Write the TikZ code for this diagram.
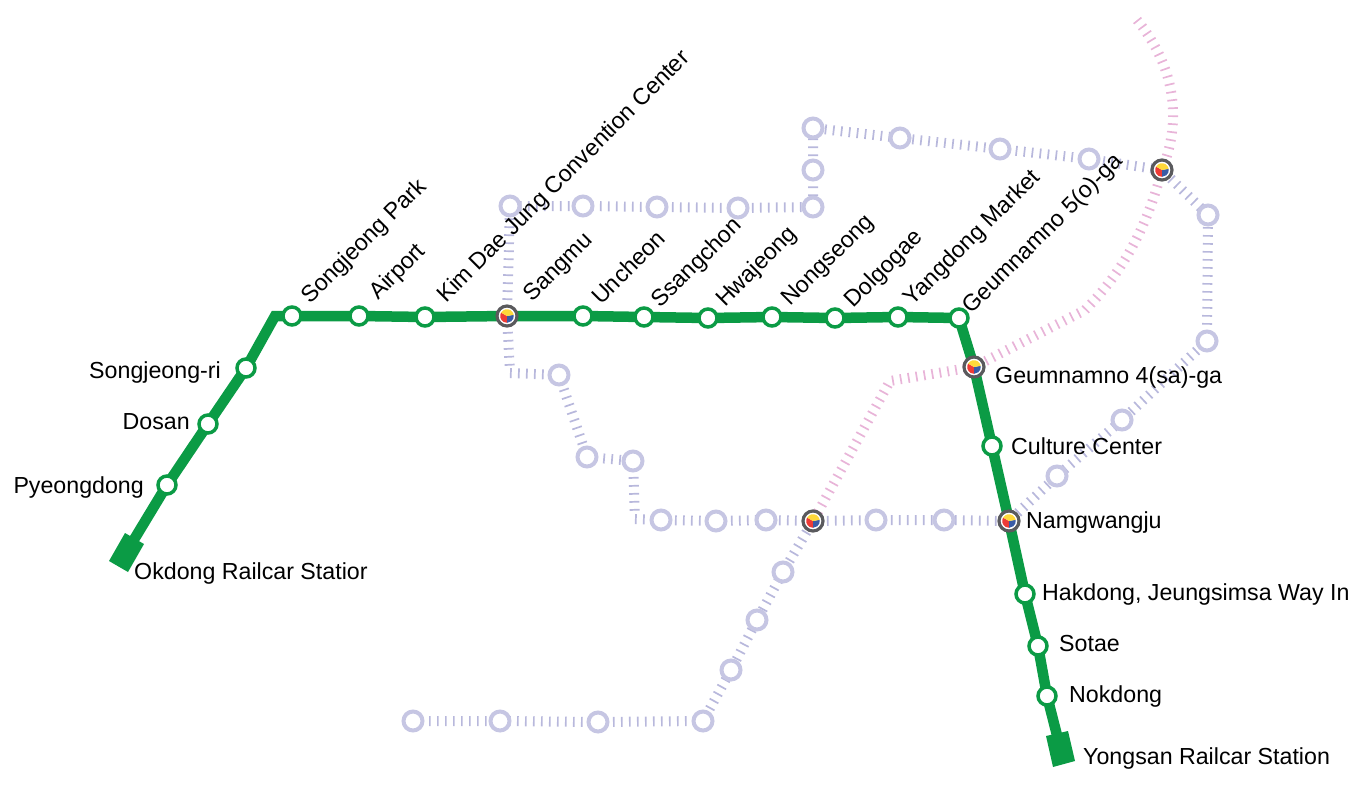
\documentclass[tikz,border=0pt]{standalone}
\usepackage{fontspec}
\setmainfont{Liberation Sans}
\definecolor{mgreen}{HTML}{0B9B45}
\definecolor{mlight}{HTML}{B8B8DC}
\definecolor{mring}{HTML}{C6C6E3}
\definecolor{mpink}{HTML}{E8B4D8}
\definecolor{mdark}{HTML}{5A5A5D}
\definecolor{pyellow}{HTML}{FFD83A}
\definecolor{pred}{HTML}{EE3B36}
\definecolor{pblue}{HTML}{3A5BA6}
\pgfdeclarelayer{back}\pgfdeclarelayer{backb}
\pgfsetlayers{backb,back,main}
\tikzset{
  st/.style={circle,draw=mgreen,fill=white,line width=3.5pt,minimum size=18pt,inner sep=0pt},
  faint/.style={circle,draw=mring,fill=white,line width=4pt,minimum size=19pt,inner sep=0pt},
  hub/.style={circle,draw=mdark,fill=white,line width=3.2pt,minimum size=20pt,inner sep=0pt,
    path picture={
      \def\pc{path picture bounding box.center}
      \fill[pred] (\pc) -- ++(150:6.8pt) arc[start angle=150,end angle=270,radius=6.8pt] -- cycle;
      \fill[pblue] (\pc) -- ++(10:6.8pt) arc[start angle=10,end angle=-90,radius=6.8pt] -- cycle;
      \fill[pyellow] (\pc) -- ++(150:6.8pt) arc[start angle=150,end angle=10,radius=6.8pt] -- cycle;
    }},
  faintline/.style={draw=mlight,line width=10pt,dash pattern=on 1.7pt off 6.3pt},
  pinkline/.style={draw=mpink,line width=10pt,dash pattern=on 1.7pt off 6.3pt},
  mainline/.style={draw=mgreen,line width=10.5pt,line join=miter},
  lbl/.style={font=\fontsize{23.2}{27}\selectfont,inner sep=0pt,text=black},
  up/.style={lbl,rotate=45,anchor=base west},
  side/.style={lbl,anchor=base west},
  leftside/.style={lbl,anchor=base east},
  term/.style={fill=mgreen}
}
\begin{document}
\begin{tikzpicture}[x=1pt,y=-1pt]
\useasboundingbox (0,0) rectangle (1368,803);
% main stations
\node[st] (pyeong) at (167,485) {};
\node[st] (dosan) at (208,424) {};
\node[st] (sri) at (246,368) {};
\node[st] (spark) at (292,316) {};
\node[st] (airport) at (359,316) {};
\node[st] (kim) at (425,317) {};
\node[hub] (sangmu) at (507,316) {};
\node[st] (uncheon) at (583,316) {};
\node[st] (ssang) at (644,317) {};
\node[st] (hwa) at (708,318) {};
\node[st] (nong) at (772,317) {};
\node[st] (dol) at (835,318) {};
\node[st] (yang) at (898,317) {};
\node[st] (g5) at (959,318) {};
\node[hub] (g4) at (974,367) {};
\node[st] (culture) at (992,446) {};
\node[hub] (nam) at (1009,521) {};
\node[st] (hak) at (1025,594) {};
\node[st] (sotae) at (1038,646) {};
\node[st] (nok) at (1047,696) {};
\coordinate (bend) at (275,316);
\coordinate (okd) at (126.5,552);
\coordinate (yong) at (1060.5,749);
% faint stations
\node[faint] (a1) at (510,206) {};
\node[faint] (a2) at (583,206) {};
\node[faint] (a3) at (657,207) {};
\node[faint] (a4) at (738,208) {};
\node[faint] (a5) at (813,207) {};
\node[faint] (a6) at (813,170) {};
\node[faint] (a7) at (813,128) {};
\node[faint] (a8) at (900,138) {};
\node[faint] (a9) at (1000,149) {};
\node[faint] (a10) at (1089,159) {};
\node[hub] (cross) at (1162,170) {};
\node[faint] (a11) at (1208,215) {};
\node[faint] (a12) at (1207,341) {};
\node[faint] (a13) at (1122,420) {};
\node[faint] (a14) at (1057,476) {};
\node[faint] (b1) at (559,375) {};
\node[faint] (b2) at (587,457) {};
\node[faint] (b3) at (633,461) {};
\node[faint] (b4) at (661,520) {};
\node[faint] (b5) at (716,521) {};
\node[faint] (b6) at (766,520) {};
\node[hub] (mid) at (813,521) {};
\node[faint] (b7) at (876,520) {};
\node[faint] (b8) at (944,520) {};
\node[faint] (c1) at (413,721) {};
\node[faint] (c2) at (500,721) {};
\node[faint] (c3) at (598,722) {};
\node[faint] (c4) at (703,721) {};
\node[faint] (c5) at (731,670) {};
\node[faint] (c6) at (757,620) {};
\node[faint] (c7) at (783,572) {};
\coordinate (s1) at (510,373);
\coordinate (s2) at (635,519);
\coordinate (ptop) at (1137,20);
\coordinate (pa) at (1085,310);
\coordinate (pb) at (890,381);
\begin{pgfonlayer}{backb}
\draw[pinkline] (ptop) .. controls (1168,58) and (1186,110) .. (cross.center) .. controls (1150,215) and (1130,265) .. (pa) -- (g4.center) -- (pb) -- (mid.center);
\draw[faintline] (sangmu.center) -- (a1.center) -- (a2.center) -- (a3.center) -- (a4.center) -- (a5.center) -- (a6.center) -- (a7.center) -- (a8.center) -- (a9.center) -- (a10.center) -- (cross.center) -- (a11.center) -- (a12.center) -- (a13.center) -- (a14.center) -- (nam.center);
\draw[faintline,shorten >=5pt] (sangmu.center) -- (s1);
\draw[faintline] (s1) -- (b1.center) -- (b2.center) -- (b3.center);
\draw[faintline,shorten >=5pt] (b3.center) -- (s2);
\draw[faintline] (s2) -- (b4.center) -- (b5.center) -- (b6.center) -- (mid.center) -- (b7.center) -- (b8.center) -- (nam.center);
\draw[faintline] (c1.center) -- (c2.center) -- (c3.center) -- (c4.center) -- (c5.center) -- (c6.center) -- (c7.center) -- (mid.center);
\end{pgfonlayer}
\begin{pgfonlayer}{back}
\draw[mainline] (okd) -- (pyeong.center) -- (dosan.center) -- (sri.center) -- (bend) -- (spark.center) -- (airport.center) -- (kim.center) -- (sangmu.center) -- (uncheon.center) -- (ssang.center) -- (hwa.center) -- (nong.center) -- (dol.center) -- (yang.center) -- (g5.center) -- (g4.center) -- (culture.center) -- (nam.center) -- (hak.center) -- (sotae.center) -- (nok.center) -- (yong);
\fill[term] (125,533) -- (144,544) -- (128,572) -- (109,561) -- cycle;
\fill[term] (1046,736) -- (1068,731) -- (1075,761) -- (1053,767) -- cycle;
\end{pgfonlayer}
% labels
\node[up] (l1) at (310.5,305) {Songjeong Park};
\node[up] (l2) at (378,301) {Airport};
\node[up] (l3) at (446,304) {Kim Dae Jung Convention Center};
\node[up] (l4) at (532.5,303) {Sangmu};
\node[up] (l5) at (601,306) {Uncheon};
\node[up] (l6) at (660.5,309) {Ssangchon};
\node[up] (l7) at (725,308) {Hwajeong};
\node[up] (l8) at (790.5,307) {Nongseong};
\node[up] (l9) at (853.5,309) {Dolgogae};
\node[up] (l10) at (912.5,307) {Yangdong Market};
\node[up] (l11) at (971.5,315) {Geumnamno 5(o)-ga};
\node[leftside] (l12) at (221,378) {Songjeong-ri};
\node[leftside] (l13) at (190,429) {Dosan};
\node[leftside] (l14) at (144,493) {Pyeongdong};
\node[side] (l15) at (134,579) {Okdong Railcar Statior};
\node[side] (l16) at (995,383) {Geumnamno 4(sa)-ga};
\node[side] (l17) at (1011,454) {Culture Center};
\node[side] (l18) at (1026,528) {Namgwangju};
\node[side] (l19) at (1042,600) {Hakdong, Jeungsimsa Way In};
\node[side] (l20) at (1059,651) {Sotae};
\node[side] (l21) at (1069,702) {Nokdong};
\node[side] (l22) at (1083,764) {Yongsan Railcar Station};
\end{tikzpicture}
\end{document}
